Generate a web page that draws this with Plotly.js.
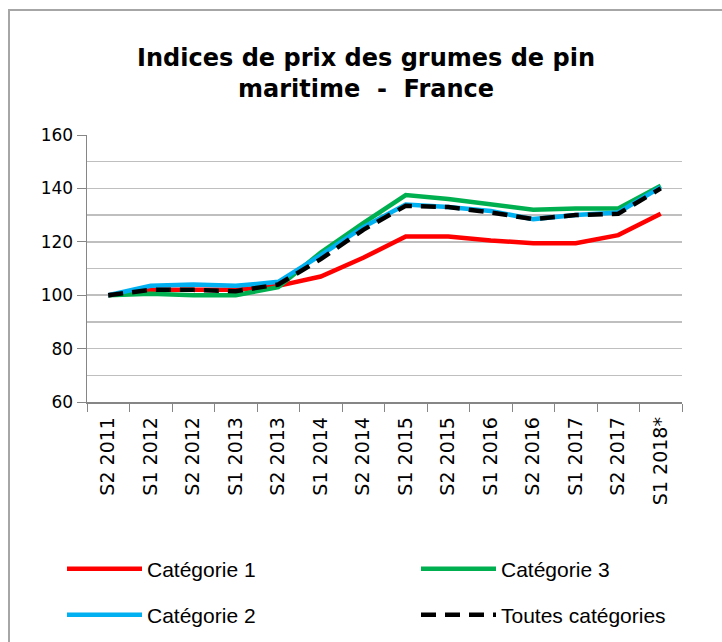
<!DOCTYPE html>
<html>
<head>
<meta charset="utf-8">
<script src="https://cdn.plot.ly/plotly-3.0.1.min.js"></script>
<style>
  body { margin: 0; background: #fff; overflow: hidden; }
  #plot { width: 722px; height: 642px; }
  #frame {
    position: absolute; left: 8px; top: 9px; width: 800px; height: 700px;
    border-left: 2px solid #a6a6a6; border-top: 2px solid #a6a6a6;
    pointer-events: none;
  }
</style>
</head>
<body>
<div id="plot"></div>
<div id="frame"></div>
<script>
// Periods (semesters)
const periods = ["S2 2011", "S1 2012", "S2 2012", "S1 2013", "S2 2013", "S1 2014", "S2 2014",
                 "S1 2015", "S2 2015", "S1 2016", "S2 2016", "S1 2017", "S2 2017", "S1 2018*"];

// Price indices (base 100 = S2 2011)
const cat1 = [100, 102, 102, 102, 103.5, 107, 114, 122, 122, 120.5, 119.5, 119.5, 122.5, 130.5];
const cat3 = [100, 100.5, 100, 100, 103, 116, 127, 137.5, 136, 134, 132, 132.5, 132.5, 141];
const cat2 = [100, 103.5, 104, 103.5, 105, 115, 125.5, 134, 133, 131.5, 128.5, 130, 131, 140.5];
const toutes = [100, 102, 102, 101.5, 104, 113.5, 124.5, 133.5, 133, 131, 128.5, 130, 130.5, 140];

// one legend box per entry so the 2x2 grid sits like the original
const series = [
  { name: "Catégorie 1", y: cat1, color: "#ff0000", dash: "solid", legend: "legend" },
  { name: "Catégorie 3", y: cat3, color: "#00b050", dash: "solid", legend: "legend2" },
  { name: "Catégorie 2", y: cat2, color: "#00b0f0", dash: "solid", legend: "legend3" },
  { name: "Toutes catégories", y: toutes, color: "#000000", dash: "15px,9px", legend: "legend4" }
];

const data = series.map(s => ({
  x: periods,
  y: s.y,
  name: s.name,
  type: "scatter",
  mode: "lines",
  legend: s.legend,
  line: { color: s.color, width: 4.5, dash: s.dash },
  hoverinfo: "skip"
}));

function legendAt(x, y) {
  return {
    orientation: "h",
    xref: "container",
    yref: "container",
    x: x / 722,
    y: 1 - y / 642,
    xanchor: "left",
    yanchor: "middle",
    itemwidth: 75,
    bgcolor: "rgba(0,0,0,0)",
    font: { family: "Liberation Sans, Arial, sans-serif", size: 21, color: "#000" }
  };
}

const layout = {
  width: 722,
  height: 642,
  margin: { l: 87, r: 40, t: 135, b: 240 },
  paper_bgcolor: "#fff",
  plot_bgcolor: "#fff",
  title: {
    text: "Indices de prix des grumes de pin<br>maritime  -  France",
    font: { family: "DejaVu Sans, Verdana, sans-serif", size: 24, weight: "bold", color: "#000" },
    xref: "container",
    x: 0.507,
    xanchor: "center",
    yref: "container",
    y: 1 - 66 / 642,
    yanchor: "top"
  },
  xaxis: {
    type: "category",
    range: [-0.5, 13.5],
    tickson: "boundaries",
    ticks: "outside",
    ticklen: 8,
    tickcolor: "#868686",
    showline: true,
    linecolor: "#868686",
    linewidth: 1.5,
    showgrid: false,
    tickangle: -90,
    ticklabelstandoff: 6,
    tickfont: { family: "DejaVu Sans, Verdana, sans-serif", size: 19, color: "#000" }
  },
  yaxis: {
    range: [60, 160],
    dtick: 20,
    ticks: "outside",
    ticklen: 9,
    tickcolor: "#868686",
    showline: true,
    linecolor: "#868686",
    linewidth: 1.5,
    showgrid: true,
    gridcolor: "#bfbfbf",
    gridwidth: 1.5,
    zeroline: false,
    minor: { dtick: 10, showgrid: true, gridcolor: "#bfbfbf", gridwidth: 1.5, ticks: "" },
    tickfont: { family: "DejaVu Sans, Verdana, sans-serif", size: 17, color: "#000" }
  },
  legend: legendAt(62, 569),
  legend2: legendAt(416, 569),
  legend3: legendAt(62, 615),
  legend4: legendAt(416, 615),
  showlegend: true
};

Plotly.newPlot("plot", data, layout, { displayModeBar: false, staticPlot: true });
</script>
</body>
</html>
